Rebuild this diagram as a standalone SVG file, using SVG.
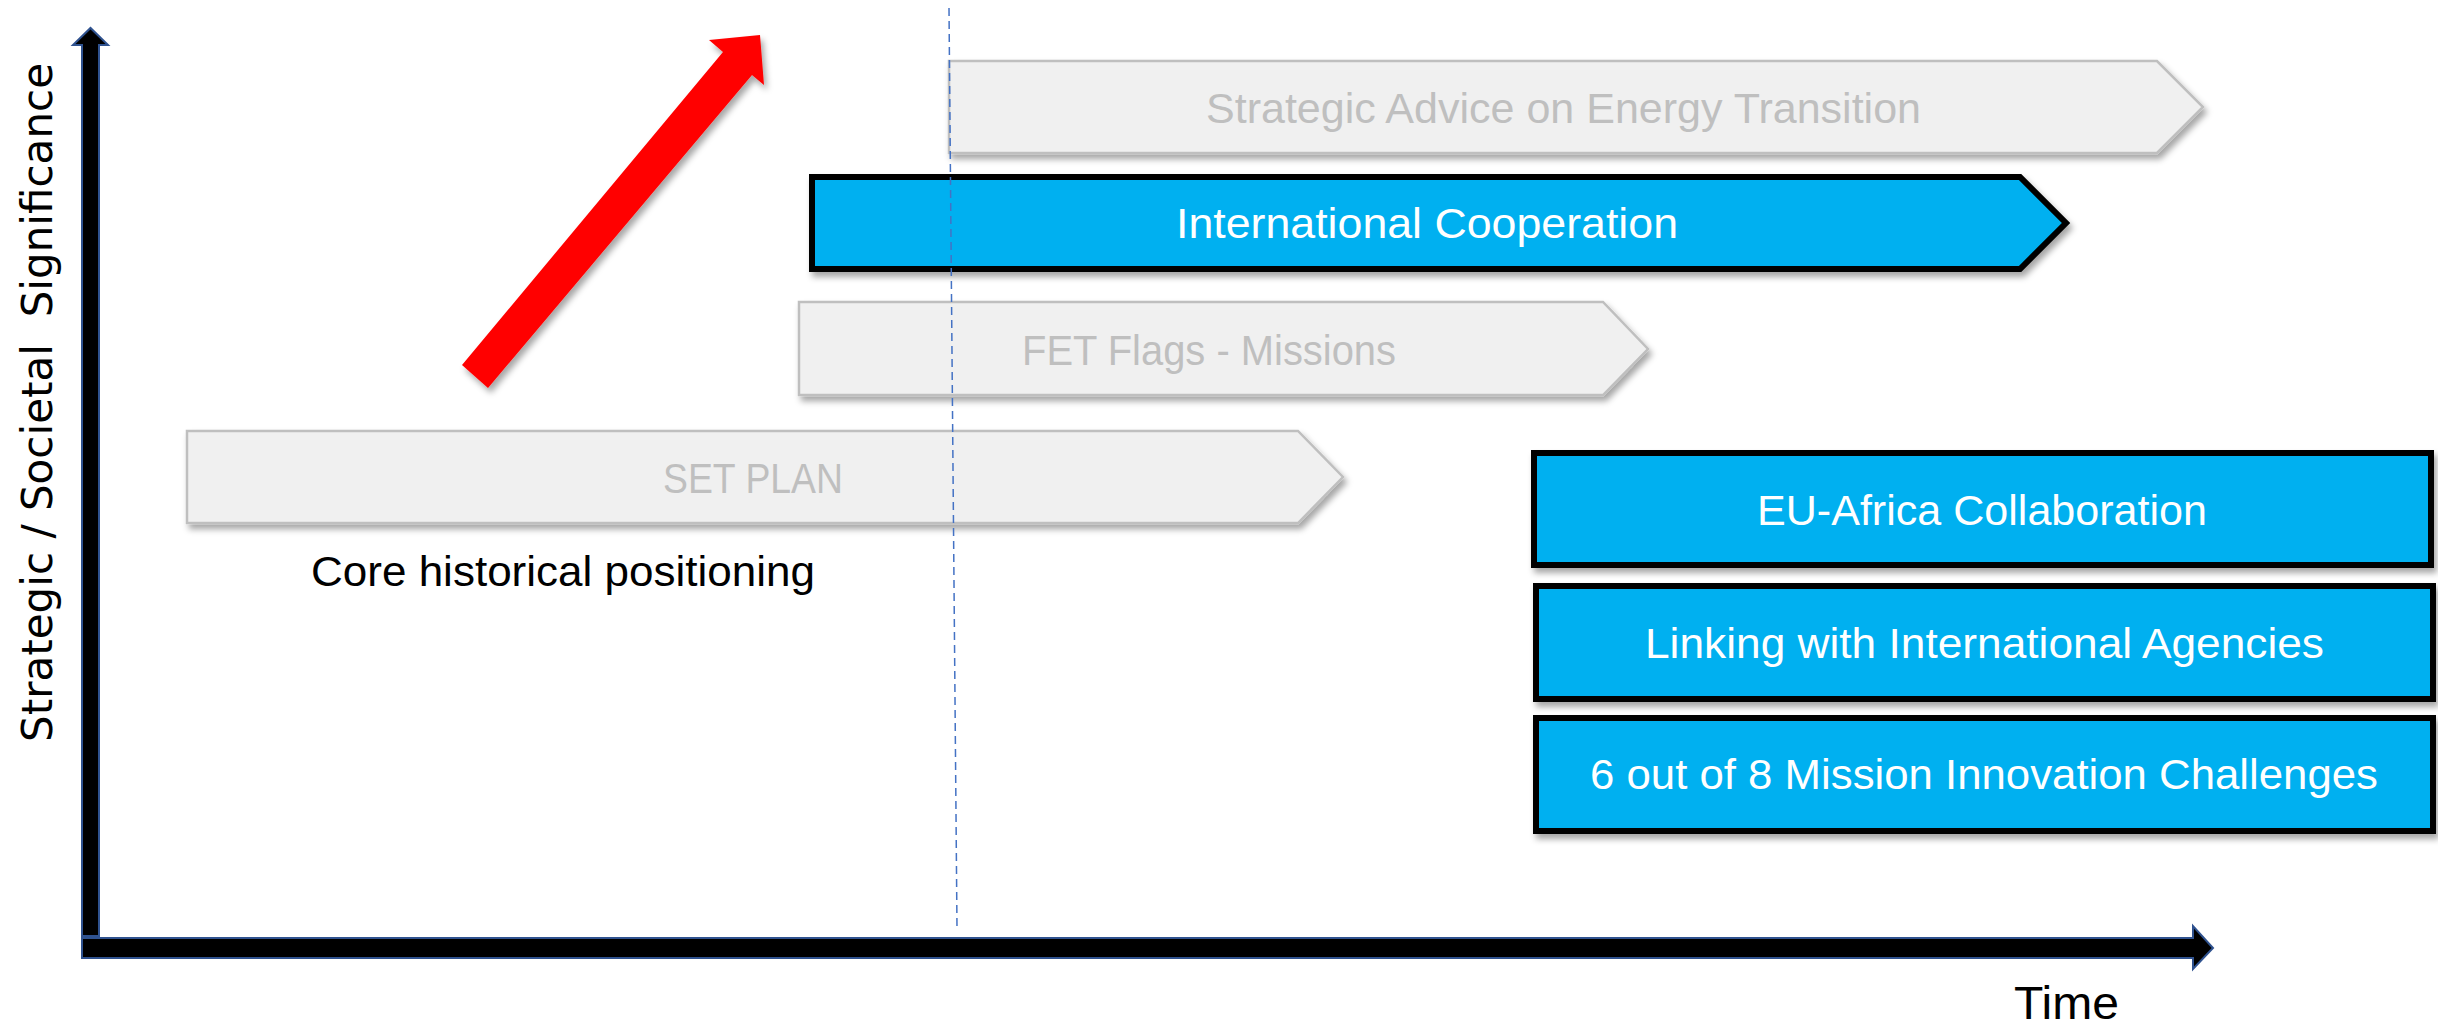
<svg xmlns="http://www.w3.org/2000/svg" width="2438" height="1030" viewBox="0 0 2438 1030">
<style>
.lbl{font-family:"Liberation Sans",Arial,sans-serif;font-size:42px}
.gray{fill:#F0F0F0;stroke:#BFBFBF;stroke-width:2.5}
.gtxt{fill:#BFBFBF}
.blue{fill:#00B0F0;stroke:#000;stroke-width:6}
.wtxt{fill:#FFFFFF}
.axis{fill:#000;stroke:#2F528F;stroke-width:2}
</style>
<defs>
<filter id="sh" x="-10%" y="-30%" width="120%" height="170%">
<feDropShadow dx="3" dy="5" stdDeviation="3" flood-color="#000" flood-opacity="0.35"/>
</filter>
</defs>
<rect width="2438" height="1030" fill="#FFFFFF"/>

<g id="axes">
<polygon class="axis" points="82,936 82,45 73,45 90.5,28 108,45 99,45 99,936"/>
<polygon class="axis" points="82,938 2193,938 2193,926 2213,948 2193,969 2193,958 82,958"/>
<text style="font-family:'DejaVu Sans',Verdana,sans-serif;font-size:42px" fill="#000" transform="translate(52,742) rotate(-90)" textLength="679" lengthAdjust="spacingAndGlyphs" xml:space="preserve">Strategic / Societal  Significance</text>
<text class="lbl" x="2014" y="1019" fill="#000" textLength="105" lengthAdjust="spacingAndGlyphs" style="font-size:46px">Time</text>
</g>

<g id="trend-arrow">
<polygon points="462,365 723,52 709,40 760,35 764,85 752,75 488,388" fill="#FF0000" filter="url(#sh)"/>
</g>

<g id="node-strategic-advice">
<polygon class="gray" points="949,61 2157,61 2203,107 2157,153 949,153" filter="url(#sh)"/>
<text class="lbl gtxt" x="1206" y="123" textLength="715" lengthAdjust="spacingAndGlyphs">Strategic Advice on Energy Transition</text>
</g>

<g id="node-international-cooperation">
<polygon class="blue" points="812,177 2020,177 2066,223 2020,269 812,269" filter="url(#sh)"/>
<text class="lbl wtxt" x="1176" y="238" textLength="502" lengthAdjust="spacingAndGlyphs">International Cooperation</text>
</g>

<g id="node-fet-flags">
<polygon class="gray" points="799,302 1603,302 1648,349 1603,395 799,395" filter="url(#sh)"/>
<text class="lbl gtxt" x="1022" y="365" textLength="374" lengthAdjust="spacingAndGlyphs">FET Flags - Missions</text>
</g>

<g id="node-set-plan">
<polygon class="gray" points="187,431 1298,431 1343,477 1298,523 187,523" filter="url(#sh)"/>
<text class="lbl gtxt" x="663" y="493" textLength="180" lengthAdjust="spacingAndGlyphs">SET PLAN</text>
</g>

<g id="node-core-historical">
<text class="lbl" x="311" y="586" fill="#000" textLength="504" lengthAdjust="spacingAndGlyphs">Core historical positioning</text>
</g>

<g id="node-eu-africa">
<rect class="blue" x="1534" y="453" width="897" height="112" filter="url(#sh)"/>
<text class="lbl wtxt" x="1757" y="525" textLength="450" lengthAdjust="spacingAndGlyphs">EU-Africa Collaboration</text>
</g>

<g id="node-linking-agencies">
<rect class="blue" x="1536" y="586" width="897" height="113" filter="url(#sh)"/>
<text class="lbl wtxt" x="1645" y="658" textLength="679" lengthAdjust="spacingAndGlyphs">Linking with International Agencies</text>
</g>

<g id="node-mission-innovation">
<rect class="blue" x="1536" y="718" width="897" height="113" filter="url(#sh)"/>
<text class="lbl wtxt" x="1590" y="789" textLength="788" lengthAdjust="spacingAndGlyphs">6 out of 8 Mission Innovation Challenges</text>
</g>

<g id="connectors">
<line x1="949" y1="8" x2="957" y2="928" stroke="#4472C4" stroke-width="1.5" stroke-dasharray="8,5"/>
</g>
</svg>
